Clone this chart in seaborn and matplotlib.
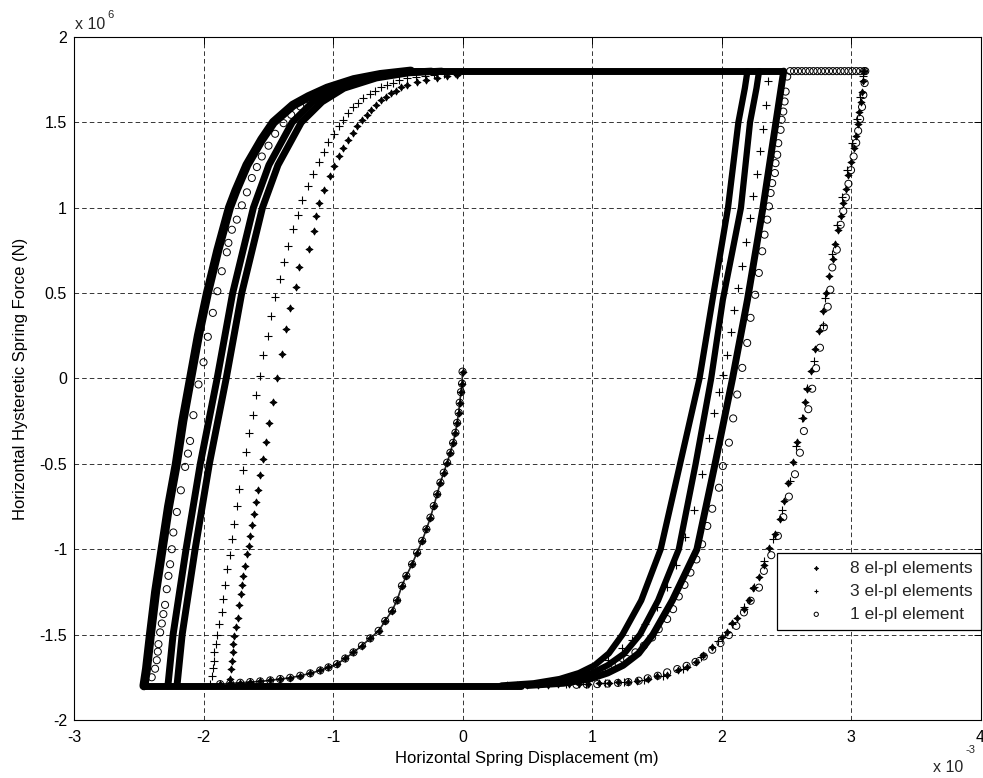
import numpy as np
import pandas as pd
import matplotlib
matplotlib.use("Agg")
import matplotlib.pyplot as plt
import seaborn as sns
from matplotlib.ticker import FuncFormatter

# ---------------- data (x in 1e-3 m, y in 1e6 N) ----------------
x_ticks = [-3, -2, -1, 0, 1, 2, 3, 4]
y_ticks = [-2, -1.5, -1, -0.5, 0, 0.5, 1, 1.5, 2]
series_names = ["8 el-pl elements", "3 el-pl elements", "1 el-pl element"]

# initial loading curve (all models coincide)
init_x = [0.0, -0.004, -0.012, -0.022, -0.03, -0.042, -0.055, -0.073, -0.094, -0.119,
          -0.145, -0.171, -0.196, -0.222, -0.248, -0.279, -0.312, -0.351, -0.39, -0.434,
          -0.468, -0.506, -0.545, -0.597, -0.648, -0.713, -0.777, -0.842, -0.906, -0.97,
          -1.035, -1.099, -1.176, -1.253, -1.331, -1.408, -1.485, -1.563, -1.64, -1.717,
          -1.794, -1.872]
init_y = [0.04, -0.03, -0.08, -0.142, -0.2, -0.26, -0.318, -0.377, -0.435, -0.493,
          -0.552, -0.61, -0.678, -0.747, -0.815, -0.883, -0.951, -1.02, -1.088, -1.156,
          -1.214, -1.30, -1.36, -1.42, -1.478, -1.522, -1.565, -1.604, -1.64, -1.673,
          -1.692, -1.71, -1.727, -1.741, -1.753, -1.76, -1.768, -1.774, -1.778, -1.782,
          -1.786, -1.79]

# dense (repeated-cycle) bands
top_x = [-0.4, 2.47]
top_y = [1.8, 1.8]
bot_x = [-2.46, 0.45]
bot_y = [-1.8, -1.8]
bandA_x = [-2.46, -2.44, -2.41, -2.37, -2.32, -2.27, -2.21, -2.16, -2.10, -2.04, -1.97,
           -1.89, -1.80, -1.75, -1.665, -1.55, -1.46, -1.31, -1.19, -1.045, -0.84, -0.635, -0.40]
bandA_y = [-1.80, -1.70, -1.50, -1.25, -1.00, -0.75, -0.50, -0.25, 0.00, 0.25, 0.50,
           0.75, 1.00, 1.10, 1.25, 1.40, 1.50, 1.60, 1.65, 1.70, 1.75, 1.78, 1.80]
bandB_x = [-2.275, -2.235, -2.135, -2.025, -1.895, -1.775, -1.615, -1.495, -1.315, -1.155,
           -0.985, -0.735, -0.485, -0.24]
bandC_x = [-2.205, -2.165, -2.065, -1.955, -1.825, -1.705, -1.545, -1.425, -1.245, -1.085,
           -0.915, -0.665, -0.415, -0.16]
bandBC_y = [-1.80, -1.50, -1.00, -0.50, 0.00, 0.50, 1.00, 1.25, 1.50, 1.62, 1.70, 1.76,
            1.79, 1.80]
R1_x = [0.30, 0.55, 0.75, 0.90, 1.02, 1.13, 1.235, 1.38, 1.53, 1.68, 1.83, 1.93, 2.05, 2.13, 2.18, 2.20]
R2_x = [0.40, 0.65, 0.85, 1.00, 1.12, 1.25, 1.37, 1.51, 1.67, 1.80, 1.92, 2.01, 2.15, 2.22, 2.27, 2.29]
R3_x = [0.50, 0.78, 0.98, 1.12, 1.24, 1.36, 1.47, 1.62, 1.81, 1.95, 2.085, 2.20, 2.32, 2.42, 2.46, 2.48]
R_y = [-1.798, -1.785, -1.76, -1.725, -1.68, -1.61, -1.50, -1.30, -1.00, -0.50, 0.00, 0.46,
       1.00, 1.50, 1.70, 1.80]

# 8 el-pl sparse branches
s8_left_x = [-1.794, -1.787, -1.781, -1.776, -1.769, -1.763, -1.751, -1.735, -1.725, -1.712,
             -1.704, -1.697, -1.679, -1.666, -1.646, -1.64, -1.627, -1.614, -1.596, -1.583,
             -1.563, -1.542, -1.519, -1.498, -1.467, -1.434, -1.395, -1.362, -1.331, -1.287,
             -1.259, -1.189, -1.145, -1.13, -1.112, -1.068, -1.027, -0.996, -0.957, -0.924, -0.888,
             -0.849, -0.815, -0.777, -0.739, -0.705, -0.666, -0.628, -0.589, -0.55, -0.512,
             -0.473, -0.43, -0.35, -0.28, -0.2, -0.12, -0.04]
s8_left_y = [-1.76, -1.70, -1.653, -1.604, -1.556, -1.507, -1.454, -1.40, -1.326, -1.263,
             -1.208, -1.156, -1.097, -1.029, -0.98, -0.921, -0.86, -0.795, -0.723, -0.653,
             -0.565, -0.47, -0.372, -0.259, -0.136, 0.0, 0.144, 0.287, 0.413, 0.534,
             0.653, 0.758, 0.865, 0.95, 1.027, 1.105, 1.183, 1.246, 1.30, 1.349, 1.398,
             1.44, 1.476, 1.511, 1.544, 1.573, 1.602, 1.628, 1.651, 1.671, 1.686,
             1.704, 1.72, 1.735, 1.748, 1.76, 1.77, 1.778]
s8_right_x = [3.10, 3.095, 3.085, 3.075, 3.065, 3.05, 3.035, 3.02, 3.0, 2.98, 2.96, 2.94, 2.92,
              2.90, 2.88, 2.86, 2.83, 2.81, 2.78, 2.75, 2.72, 2.69, 2.66, 2.645, 2.63, 2.58,
              2.55, 2.515, 2.48, 2.45, 2.41, 2.37, 2.325, 2.29, 2.245, 2.21, 2.17, 2.12, 2.08,
              2.04, 2.005, 1.93, 1.86, 1.80, 1.73, 1.66, 1.58, 1.50, 1.43, 1.35, 1.28, 1.20,
              1.13, 1.05, 0.97, 0.90, 0.82, 0.74, 0.66, 0.58, 0.50, 0.42, 0.34]
s8_right_y = [1.80, 1.74, 1.68, 1.62, 1.56, 1.49, 1.42, 1.35, 1.27, 1.19, 1.11, 1.03, 0.95,
              0.87, 0.79, 0.70, 0.60, 0.50, 0.394, 0.28, 0.17, 0.043, -0.06, -0.14, -0.23, -0.37,
              -0.49, -0.61, -0.72, -0.825, -0.91, -0.99, -1.09, -1.16, -1.23, -1.30, -1.35, -1.40,
              -1.43, -1.485, -1.515, -1.57, -1.62, -1.66, -1.69, -1.71, -1.735, -1.745, -1.76,
              -1.77, -1.776, -1.78, -1.785, -1.785, -1.79, -1.79, -1.79, -1.792, -1.794, -1.795,
              -1.796, -1.797, -1.798]

# 3 el-pl sparse branches
s3_left_x = [-1.95, -1.936, -1.924, -1.918, -1.916, -1.905, -1.897, -1.877, -1.859, -1.846, -1.838,
             -1.82, -1.794, -1.781, -1.763, -1.743, -1.725, -1.692, -1.671, -1.647, -1.619,
             -1.597, -1.563, -1.537, -1.503, -1.48, -1.447, -1.408, -1.375, -1.344, -1.31,
             -1.274, -1.236, -1.197, -1.156, -1.112, -1.073, -1.035, -0.996, -0.957, -0.924,
             -0.888, -0.849, -0.808, -0.765, -0.718, -0.674, -0.628, -0.584, -0.537, -0.494,
             -0.43, -0.36, -0.29, -0.22, -0.14, -0.06]
s3_left_y = [-1.79, -1.741, -1.698, -1.653, -1.604, -1.556, -1.503, -1.439, -1.366, -1.292, -1.208,
             -1.117, -1.035, -0.942, -0.85, -0.747, -0.645, -0.538, -0.431, -0.318, -0.215,
             -0.098, 0.016, 0.135, 0.247, 0.364, 0.476, 0.583, 0.682, 0.778, 0.875,
             0.959, 1.043, 1.125, 1.197, 1.267, 1.329, 1.382, 1.431, 1.476, 1.515,
             1.554, 1.587, 1.616, 1.642, 1.665, 1.684, 1.704, 1.72, 1.733, 1.749,
             1.757, 1.765, 1.772, 1.778, 1.784, 1.788]
s3_mid_x = [0.85, 1.0, 1.12, 1.23, 1.31, 1.41, 1.50, 1.58, 1.645, 1.72, 1.785, 1.85, 1.90, 1.94,
            1.98, 2.01, 2.04, 2.07, 2.10, 2.13, 2.16, 2.19, 2.22, 2.245, 2.27, 2.295, 2.32, 2.34, 2.355]
s3_mid_y = [-1.76, -1.72, -1.65, -1.58, -1.53, -1.44, -1.34, -1.22, -1.09, -0.93, -0.77, -0.56,
            -0.35, -0.2, -0.08, 0.02, 0.14, 0.27, 0.4, 0.53, 0.66, 0.8, 0.94, 1.07, 1.2, 1.33,
            1.46, 1.6, 1.74]
s3_right_x = [3.09, 3.07, 3.045, 3.01, 2.97, 2.93, 2.89, 2.85, 2.80, 2.786, 2.713, 2.662, 2.62,
              2.577, 2.526, 2.47, 2.40, 2.33, 2.25, 2.17, 2.08, 1.97, 1.84, 1.70, 1.55, 1.40,
              1.25, 1.10, 0.95, 0.80]
s3_right_y = [1.77, 1.65, 1.52, 1.38, 1.22, 1.06, 0.90, 0.73, 0.47, 0.316, 0.101, -0.054, -0.23,
              -0.396, -0.60, -0.77, -0.94, -1.07, -1.22, -1.34, -1.44, -1.54, -1.63, -1.70,
              -1.74, -1.765, -1.778, -1.786, -1.79, -1.792]

# 1 el-pl sparse branches
s1_A_x = [-2.40, -2.374, -2.361, -2.353, -2.348, -2.335, -2.322, -2.31, -2.297, -2.284, -2.271,
          -2.258, -2.245, -2.233, -2.206, -2.175, -2.142, -2.12, -2.104, -2.078, -2.039, -2.0,
          -1.967, -1.928, -1.893, -1.859, -1.82, -1.808, -1.781, -1.743, -1.704, -1.665,
          -1.627, -1.588, -1.55, -1.498, -1.447, -1.382, -1.323, -1.253, -1.182, -1.112]
s1_A_y = [-1.75, -1.70, -1.65, -1.60, -1.556, -1.487, -1.435, -1.38, -1.326, -1.234, -1.156,
          -1.088, -1.0, -0.902, -0.782, -0.655, -0.518, -0.44, -0.366, -0.215, -0.035, 0.095,
          0.244, 0.384, 0.511, 0.628, 0.739, 0.794, 0.871, 0.93, 1.014, 1.09,
          1.174, 1.238, 1.30, 1.363, 1.433, 1.495, 1.544, 1.593, 1.632, 1.671]
s1_R3_x = [2.507, 2.495, 2.487, 2.477, 2.464, 2.456, 2.438, 2.43, 2.417, 2.412, 2.391, 2.379,
           2.366, 2.353, 2.332, 2.314, 2.288, 2.26, 2.224, 2.198, 2.16, 2.121, 2.09, 2.057,
           2.01, 1.98, 1.928, 1.89, 1.85, 1.806, 1.76, 1.714, 1.67, 1.626, 1.58, 1.515,
           1.464, 1.40, 1.335, 1.271, 1.206, 1.129, 1.052, 0.975, 0.897, 0.82]
s1_R3_y = [1.768, 1.68, 1.622, 1.563, 1.515, 1.456, 1.378, 1.31, 1.261, 1.203, 1.144, 1.086,
           1.008, 0.93, 0.842, 0.745, 0.618, 0.49, 0.355, 0.208, 0.062, -0.094, -0.234, -0.376,
           -0.513, -0.64, -0.763, -0.864, -0.971, -1.06, -1.137, -1.209, -1.277, -1.351, -1.409,
           -1.468, -1.517, -1.565, -1.604, -1.643, -1.673, -1.702, -1.721, -1.741, -1.756, -1.77]
s1_top_x = [2.53, 2.56, 2.59, 2.62, 2.65, 2.68, 2.71, 2.74, 2.77, 2.80, 2.83, 2.86, 2.89, 2.92,
            2.95, 2.98, 3.01, 3.04, 3.07, 3.10]
s1_top_y = [1.8, 1.8, 1.8, 1.8, 1.8, 1.8, 1.8, 1.8, 1.8, 1.8, 1.8, 1.8, 1.8, 1.8,
            1.8, 1.8, 1.8, 1.8, 1.8, 1.8]
s1_right_x = [3.11, 3.105, 3.095, 3.085, 3.07, 3.055, 3.04, 3.02, 3.0, 2.98, 2.96, 2.94, 2.92,
              2.89, 2.855, 2.84, 2.82, 2.79, 2.76, 2.73, 2.70, 2.67, 2.636, 2.605, 2.567, 2.52,
              2.477, 2.435, 2.384, 2.327, 2.289, 2.225, 2.173, 2.114, 2.057, 1.992, 1.928,
              1.863, 1.799, 1.73, 1.658, 1.58, 1.508, 1.43, 1.361, 1.28, 1.20, 1.12, 1.04, 0.96, 0.88]
s1_right_y = [1.80, 1.73, 1.66, 1.59, 1.52, 1.45, 1.38, 1.30, 1.22, 1.14, 1.06, 0.98, 0.90,
              0.754, 0.65, 0.52, 0.42, 0.30, 0.18, 0.06, -0.06, -0.18, -0.308, -0.435, -0.561,
              -0.692, -0.812, -0.922, -1.035, -1.127, -1.225, -1.302, -1.37, -1.449, -1.503,
              -1.55, -1.589, -1.628, -1.66, -1.683, -1.702, -1.721, -1.741, -1.756, -1.77,
              -1.778, -1.783, -1.787, -1.79, -1.792, -1.794]


def frame(xs, ys, name):
    return pd.DataFrame({"x": np.asarray(xs, float), "y": np.asarray(ys, float), "part": name})


# ---------------- style ----------------
sns.set_theme(style="white")
plt.rcParams["font.family"] = ["Liberation Sans", "DejaVu Sans"]
plt.rcParams["axes.unicode_minus"] = False

fig = plt.figure(figsize=(9.83, 7.78), dpi=100)
ax = fig.add_axes([0.0753, 0.0746, 0.9222, 0.8779])

# dense bands
band_specs = [
    (frame(top_x, top_y, "top"), 5.0),
    (frame(bot_x, bot_y, "bot"), 5.0),
    (frame(bandA_x, bandA_y, "A"), 6.5),
    (frame(bandB_x, bandBC_y, "B"), 5.0),
    (frame(bandC_x, bandBC_y, "C"), 5.0),
    (frame(R1_x, R_y, "R1"), 4.5),
    (frame(R2_x, R_y, "R2"), 4.5),
    (frame(R3_x, R_y, "R3"), 5.0),
]
for df, lw in band_specs:
    sns.lineplot(data=df, x="x", y="y", sort=False, estimator=None, color="black",
                 linewidth=lw, ax=ax, legend=False, solid_joinstyle="round",
                 solid_capstyle="round", zorder=2)

init_df = frame(init_x, init_y, "init")
sns.lineplot(data=init_df, x="x", y="y", sort=False, estimator=None, color="#222222",
             linewidth=1.2, ax=ax, legend=False, zorder=2)

pts8 = pd.concat([frame(init_x, init_y, "init"), frame(s8_left_x, s8_left_y, "L"),
                  frame(s8_right_x, s8_right_y, "R")])
pts3 = pd.concat([frame(s3_left_x, s3_left_y, "L"), frame(s3_mid_x, s3_mid_y, "M"),
                  frame(s3_right_x, s3_right_y, "R")])
pts1 = pd.concat([frame(init_x, init_y, "init"), frame(s1_A_x, s1_A_y, "A"),
                  frame(s1_R3_x, s1_R3_y, "R3"), frame(s1_top_x, s1_top_y, "T"),
                  frame(s1_right_x, s1_right_y, "R")])

sns.scatterplot(data=pts8, x="x", y="y", marker=(4, 1, 0), s=26, color="black",
                edgecolor="black", linewidth=0.6, ax=ax, label=series_names[0], zorder=3)
sns.scatterplot(data=pts3, x="x", y="y", marker="+", s=30, color="black",
                linewidth=0.8, ax=ax, label=series_names[1], zorder=3)
sns.scatterplot(data=pts1, x="x", y="y", marker="o", s=26, facecolor="none",
                edgecolor="black", linewidth=0.7, ax=ax, label=series_names[2], zorder=3)

# axes
ax.set_xlim(x_ticks[0], x_ticks[-1])
ax.set_ylim(y_ticks[0], y_ticks[-1])
ax.set_xticks(x_ticks)
ax.set_yticks(y_ticks)
fmt = FuncFormatter(lambda v, p: "%g" % v)
ax.xaxis.set_major_formatter(fmt)
ax.yaxis.set_major_formatter(fmt)
ax.tick_params(direction="in", top=True, right=True, length=5, width=0.7,
               labelsize=11.5, colors="black")
ax.tick_params(axis="x", pad=7)
ax.tick_params(axis="y", pad=5)
ax.grid(True, color="black", linestyle=(0, (6, 4)), linewidth=0.55)
ax.set_axisbelow(True)
for sp in ax.spines.values():
    sp.set_color("black")
    sp.set_linewidth(0.8)

ax.set_xlabel("Horizontal Spring Displacement (m)", fontsize=12, color="black")
ax.set_ylabel("Horizontal Hysteretic Spring Force (N)", fontsize=12, color="black")
ax.xaxis.set_label_coords(0.5, -0.046)
ax.yaxis.set_label_coords(-0.051, 0.5)

# exponent labels
fig.text(75 / 983, 1 - 29 / 778, "x 10", fontsize=11.5, va="baseline", ha="left")
fig.text(107 / 983, 1 - 18 / 778, "6", fontsize=8, va="baseline", ha="left")
fig.text(933 / 983, 1 - 772 / 778, "x 10", fontsize=11.5, va="baseline", ha="left")
fig.text(965 / 983, 1 - 753 / 778, "-3", fontsize=8, va="baseline", ha="left")

leg = ax.legend(loc="upper right", bbox_to_anchor=(1.0, 0.2445), borderaxespad=0,
                fontsize=12.5, frameon=True, fancybox=False, edgecolor="black",
                framealpha=1, markerscale=0.6, handlelength=3.6, handletextpad=0.15,
                labelspacing=0.45, borderpad=0.45, scatterpoints=1)
leg.get_frame().set_linewidth(0.9)

fig.savefig("out.png", dpi=100)
